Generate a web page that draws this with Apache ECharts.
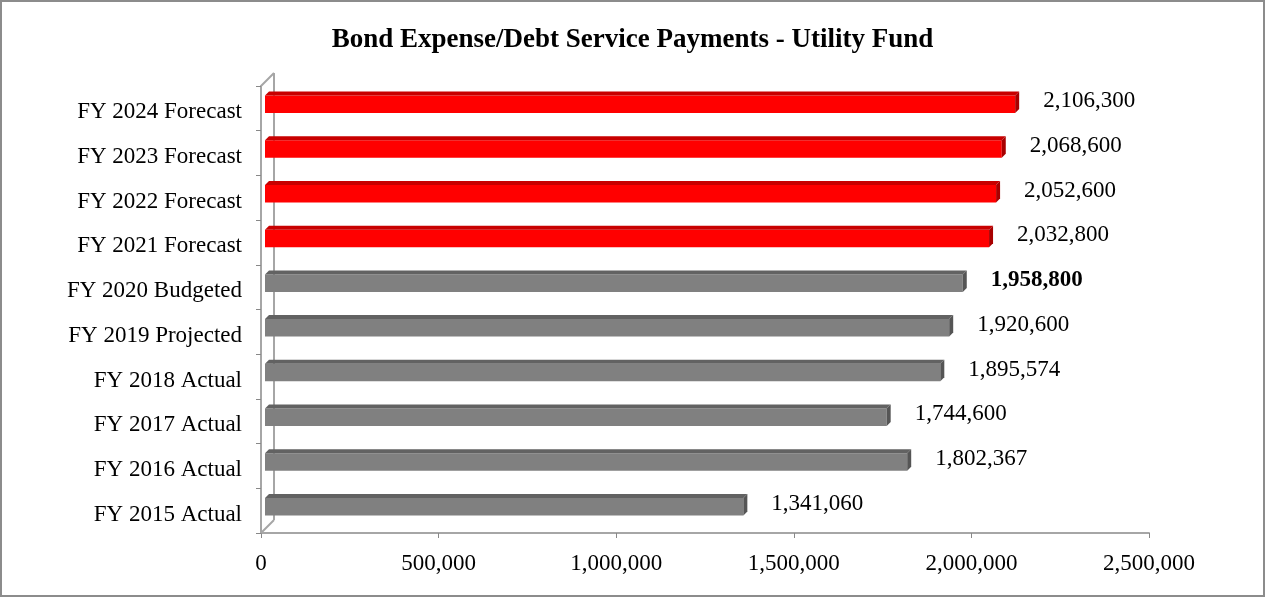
<!DOCTYPE html>
<html>
<head>
<meta charset="utf-8">
<script src="https://cdn.jsdelivr.net/npm/echarts@6/dist/echarts.min.js"></script>
<style>
  html, body { margin: 0; padding: 0; background: #fff; }
  #chart { width: 1265px; height: 598px; }
</style>
</head>
<body>
<div id="chart"></div>
<script>
// Fiscal years, bottom to top
const categories = [
  'FY 2015 Actual', 'FY 2016 Actual', 'FY 2017 Actual', 'FY 2018 Actual',
  'FY 2019 Projected', 'FY 2020 Budgeted', 'FY 2021 Forecast',
  'FY 2022 Forecast', 'FY 2023 Forecast', 'FY 2024 Forecast'
];
const payments = [1341060, 1802367, 1744600, 1895574, 1920600, 1958800, 2032800, 2052600, 2068600, 2106300];
const isForecast = [false, false, false, false, false, false, true, true, true, true];
const boldLabel = [false, false, false, false, false, true, false, false, false, false];
const xTicks = [0, 500000, 1000000, 1500000, 2000000, 2500000];

const FONT = '"Liberation Serif", "Times New Roman", serif';
const GRID = { left: 261, right: 116, top: 86, bottom: 65 };

const palette = {
  red:  { front: '#ff0000', top: '#c80000', side: '#a80000' },
  gray: { front: '#808080', top: '#626262', side: '#555555' }
};

const chart = echarts.init(document.getElementById('chart'), null, { renderer: 'canvas' });

function fmt(v) { return v.toLocaleString('en-US'); }

// Extruded bar: front face, thin top face and right side face, plus its value label
function renderBar(params, api) {
  const i = api.value(2);
  const val = api.value(0);
  const cat = api.value(1);
  const start = api.coord([0, cat]);
  const end = api.coord([val, cat]);
  const band = api.size([0, 1])[1];
  const h = band * 0.48;
  const d = 4;
  const yc = start[1] - 6;
  const yt = yc - h / 2, yb = yc + h / 2;
  const x0 = start[0] + 4, x1 = end[0] + 6;
  const c = isForecast[i] ? palette.red : palette.gray;
  return {
    type: 'group',
    children: [
      { type: 'rect', shape: { x: x0, y: yt + d, width: x1 - x0, height: yb - yt - d },
        style: { fill: c.front } },
      { type: 'polygon', shape: { points: [[x0, yt + d], [x1, yt + d], [x1 + d, yt], [x0 + d, yt]] },
        style: { fill: c.top } },
      { type: 'polygon', shape: { points: [[x1, yt + d], [x1 + d, yt], [x1 + d, yb - d], [x1, yb]] },
        style: { fill: c.side } },
      { type: 'text', x: x1 + d + 24, y: yc - 1,
        style: { text: fmt(val), font: (boldLabel[i] ? 'bold ' : '') + '23px ' + FONT,
                 fill: '#000', textVerticalAlign: 'middle', textAlign: 'left' } }
    ]
  };
}

const option = {
  backgroundColor: '#fff',
  animation: false,
  title: {
    text: 'Bond Expense/Debt Service Payments - Utility Fund',
    left: 'center', top: 22,
    textStyle: { fontFamily: FONT, fontWeight: 'bold', fontSize: 27, color: '#000' }
  },
  grid: GRID,
  xAxis: {
    type: 'value', min: xTicks[0], max: xTicks[xTicks.length - 1], interval: xTicks[1] - xTicks[0],
    axisLine: { show: true, lineStyle: { color: '#a6a6a6', width: 2 } },
    axisTick: { show: true, length: 5, lineStyle: { color: '#888' } },
    splitLine: { show: false },
    axisLabel: { margin: 19, fontFamily: FONT, fontSize: 23, color: '#000', formatter: v => fmt(v) }
  },
  yAxis: {
    type: 'category', data: categories,
    axisLine: { show: true, lineStyle: { color: '#a6a6a6', width: 2 } },
    axisTick: { show: true, length: 5, lineStyle: { color: '#888' } },
    axisLabel: { margin: 19, fontFamily: FONT, fontSize: 23, color: '#000',
                 formatter: v => '{c|' + v + '}',
                 rich: { c: { fontFamily: FONT, fontSize: 23, color: '#000', padding: [8, 0, 0, 0] } } }
  },
  series: [{
    type: 'custom',
    renderItem: renderBar,
    encode: { x: 0, y: 1 },
    data: payments.map((v, i) => [v, i, i]),
    z: 5
  }],
  graphic: []
};

chart.setOption(option);

// Back wall edges of the 3D frame, placed from the axis scale
const ax0 = chart.convertToPixel({ xAxisIndex: 0 }, 0);
const yTop = GRID.top, yBot = 598 - GRID.bottom;
const D = 13;
const wall = { stroke: '#a6a6a6', lineWidth: 2 };
chart.setOption({
  graphic: [
    { type: 'rect', shape: { x: 1, y: 1, width: 1263, height: 595 },
      style: { fill: 'none', stroke: '#8c8c8c', lineWidth: 2 }, z: 0 },
    { type: 'line', shape: { x1: ax0 + D, y1: yTop - D, x2: ax0 + D, y2: yBot - D }, style: wall, z: 1 },
    { type: 'line', shape: { x1: ax0, y1: yTop, x2: ax0 + D, y2: yTop - D }, style: wall, z: 1 },
    { type: 'line', shape: { x1: ax0, y1: yBot, x2: ax0 + D, y2: yBot - D }, style: wall, z: 1 }
  ]
});
</script>
</body>
</html>
